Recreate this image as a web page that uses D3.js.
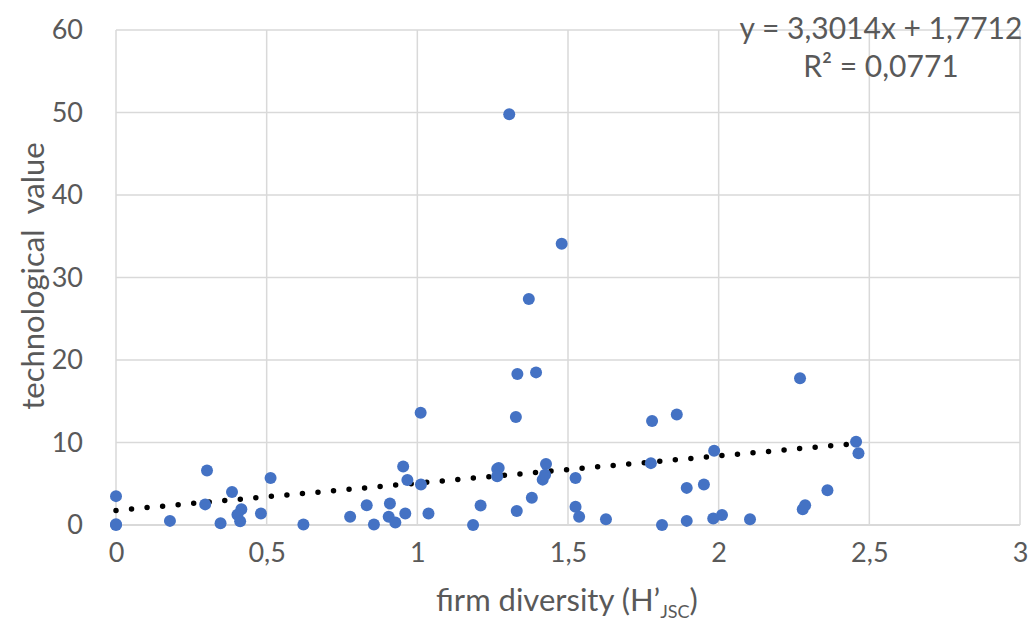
<!DOCTYPE html>
<html>
<head>
<meta charset="utf-8">
<script src="https://cdn.jsdelivr.net/npm/d3@7"></script>
<style>
  body { margin: 0; background: #fff; }
</style>
</head>
<body>
<script>
var width = 1035;
var height = 634;
var margin = { top: 30, right: 15, bottom: 109, left: 116 };
var textColor = "#595959";
var gridColor = "#d9d9d9";
var pointColor = "#4472c4";
var fontFamily = "Lato, 'Open Sans', sans-serif";

// firm diversity (H'JSC)
var diversity = [0, 0, 0,
  0.179, 0.302, 0.296, 0.347, 0.385, 0.416, 0.403, 0.412, 0.481, 0.513, 0.622, 0.777,
  0.832, 0.856, 0.905, 0.909, 0.927, 0.953, 0.967, 0.96, 1.011, 1.012, 1.037,
  1.185, 1.21, 1.265, 1.27, 1.265, 1.305, 1.327, 1.33, 1.332, 1.37, 1.38, 1.394,
  1.427, 1.416, 1.424, 1.479, 1.525, 1.525, 1.537, 1.626, 1.779, 1.775, 1.861,
  1.812, 1.894, 1.951, 1.894, 1.985, 1.982, 2.011, 2.104, 2.27, 2.279, 2.287,
  2.361, 2.456, 2.464];
// technological value
var techValue = [3.5, 0, 0.1,
  0.5, 6.6, 2.5, 0.2, 4.0, 1.9, 1.25, 0.45, 1.4, 5.7, 0.05, 1.0,
  2.4, 0.05, 1.0, 2.6, 0.3, 7.1, 5.45, 1.4, 13.6, 4.9, 1.4,
  0, 2.35, 6.8, 6.9, 5.9, 49.8, 13.1, 1.7, 18.3, 27.4, 3.3, 18.5,
  7.4, 5.5, 6.1, 34.1, 5.7, 2.2, 1.0, 0.7, 12.6, 7.5, 13.4,
  0, 4.5, 4.9, 0.5, 9.0, 0.8, 1.2, 0.7, 17.8, 1.9, 2.4,
  4.2, 10.1, 8.7];

var xTicks = [0, 0.5, 1, 1.5, 2, 2.5, 3];
var yTicks = [0, 10, 20, 30, 40, 50, 60];
var slope = 3.3014;
var intercept = 1.7712;
var equationLines = ["y = 3,3014x + 1,7712", "R² = 0,0771"];

var formatComma = function(d) { return String(d).replace(".", ","); };

var svg = d3.select("body").append("svg")
  .attr("width", width)
  .attr("height", height)
  .style("font-family", fontFamily);

var x = d3.scaleLinear().domain([0, 3]).range([margin.left, width - margin.right]);
var y = d3.scaleLinear().domain([0, 60]).range([height - margin.bottom, margin.top]);

// gridlines
svg.append("g")
  .selectAll("line.vgrid")
  .data(xTicks)
  .enter().append("line")
    .attr("x1", function(d) { return x(d); })
    .attr("x2", function(d) { return x(d); })
    .attr("y1", y(60))
    .attr("y2", y(0))
    .attr("stroke", gridColor)
    .attr("stroke-width", 1.5);

svg.append("g")
  .selectAll("line.hgrid")
  .data(yTicks)
  .enter().append("line")
    .attr("x1", x(0))
    .attr("x2", x(3))
    .attr("y1", function(d) { return y(d); })
    .attr("y2", function(d) { return y(d); })
    .attr("stroke", gridColor)
    .attr("stroke-width", function(d) { return d === 0 ? 2 : 1.5; });

// axes (labels only)
var xAxis = svg.append("g")
  .attr("transform", "translate(0," + (y(0) + 15) + ")")
  .call(d3.axisBottom(x).tickValues(xTicks).tickFormat(formatComma).tickSize(0));
var yAxis = svg.append("g")
  .attr("transform", "translate(" + (x(0) - 30) + ",0)")
  .call(d3.axisLeft(y).tickValues(yTicks).tickSize(0));
[xAxis, yAxis].forEach(function(a) {
  a.select(".domain").remove();
  a.selectAll("text")
    .attr("fill", textColor)
    .style("font-size", "27px")
    .style("font-family", fontFamily);
});
xAxis.selectAll("text").attr("dy", "0.71em");

// trend line
var xExtent = d3.extent(diversity);
svg.append("line")
  .attr("x1", x(xExtent[0]))
  .attr("y1", y(slope * xExtent[0] + intercept))
  .attr("x2", x(xExtent[1]))
  .attr("y2", y(slope * xExtent[1] + intercept))
  .attr("stroke", "#000")
  .attr("stroke-width", 5.5)
  .attr("stroke-linecap", "round")
  .attr("stroke-dasharray", "0 15.6");

// points
svg.append("g")
  .selectAll("circle")
  .data(diversity)
  .enter().append("circle")
    .attr("cx", function(d) { return x(d); })
    .attr("cy", function(d, i) { return y(techValue[i]); })
    .attr("r", 6)
    .attr("fill", pointColor);

// equation
svg.append("g")
  .selectAll("text")
  .data(equationLines)
  .enter().append("text")
    .attr("x", 881)
    .attr("y", function(d, i) { return 27 + i * 38; })
    .attr("text-anchor", "middle")
    .attr("dominant-baseline", "central")
    .attr("fill", textColor)
    .style("font-size", "30px")
    .text(function(d) { return d; });

// axis titles
var xTitle = svg.append("text")
  .attr("x", 567)
  .attr("y", 611)
  .attr("text-anchor", "middle")
  .attr("fill", textColor)
  .style("font-size", "31px");
xTitle.append("tspan").text("firm diversity (H’");
xTitle.append("tspan").attr("dy", 7).style("font-size", "18px").text("JSC");
xTitle.append("tspan").attr("dy", -7).text(")");

svg.append("text")
  .attr("transform", "translate(44," + 276 + ") rotate(-90)")
  .attr("text-anchor", "middle")
  .attr("fill", textColor)
  .style("font-size", "31px")
  .style("white-space", "pre")
  .text("technological  value");
</script>
</body>
</html>
